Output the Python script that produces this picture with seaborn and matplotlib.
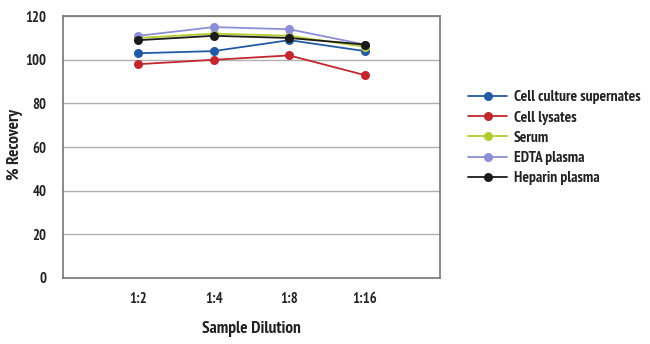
import matplotlib
matplotlib.use("Agg")
import matplotlib.pyplot as plt
import seaborn as sns
import pandas as pd

dilutions = ["1:2", "1:4", "1:8", "1:16"]
cell_culture = [103, 104, 109, 104]
cell_lysates = [98, 100, 102, 93]
serum = [110, 112, 111, 106]
edta = [111, 115, 114, 107]
heparin = [109, 111, 110, 107]
series_names = ["Cell culture supernates", "Cell lysates", "Serum", "EDTA plasma", "Heparin plasma"]
colors = ["#2459a6", "#c1272d", "#b4cb2c", "#8b8fd6", "#1b1b1b"]

rows = []
for name, vals in zip(series_names, [cell_culture, cell_lysates, serum, edta, heparin]):
    for i, (d, v) in enumerate(zip(dilutions, vals)):
        rows.append({"pos": i, "Dilution": d, "Recovery": v, "Sample": name})
df = pd.DataFrame(rows)

sns.set_style("white")
plt.rcParams['font.family'] = ['PT Sans Narrow', 'DejaVu Sans']
plt.rcParams['font.weight'] = 'bold'

fig = plt.figure(figsize=(6.5, 3.44), dpi=100)
ax = fig.add_axes([0.097, 0.192, 0.58, 0.761])
sns.lineplot(data=df, x="pos", y="Recovery", hue="Sample", hue_order=series_names,
             palette=colors, marker="o", markersize=6.5, markeredgewidth=0,
             linewidth=1.3, ax=ax)

ax.set_xlim(-1, 4)
ax.set_ylim(0, 120)
ax.set_xticks(range(len(dilutions)))
ax.set_xticklabels(dilutions)
ax.set_yticks(range(0, 121, 20))
ax.yaxis.grid(True, color="#b0b0b0", linewidth=1)
ax.set_axisbelow(True)
for s in ax.spines.values():
    s.set_color("#777777")
    s.set_linewidth(1.2)
ax.tick_params(axis="both", direction="out", length=4, width=1, color="#777777",
               labelsize=10.5, pad=6)
ax.tick_params(axis="y", pad=8)
for lab in ax.get_xticklabels() + ax.get_yticklabels():
    lab.set_fontweight("bold")
    lab.set_color("#222222")
ax.set_xlabel("Sample Dilution", fontsize=12.5, fontweight="bold", color="#222222", labelpad=11)
ax.set_ylabel("% Recovery", fontsize=12.5, fontweight="bold", color="#222222")
ax.yaxis.set_label_coords(-0.105, 0.51)

leg = ax.legend(loc="upper left", bbox_to_anchor=(1.058, 0.74), frameon=False,
                fontsize=11.2, handlelength=2.5, handletextpad=0.45,
                labelspacing=0.4, borderaxespad=0)
for t in leg.get_texts():
    t.set_fontweight("bold")
    t.set_color("#222222")

fig.savefig("out.png", dpi=100, facecolor="white")
